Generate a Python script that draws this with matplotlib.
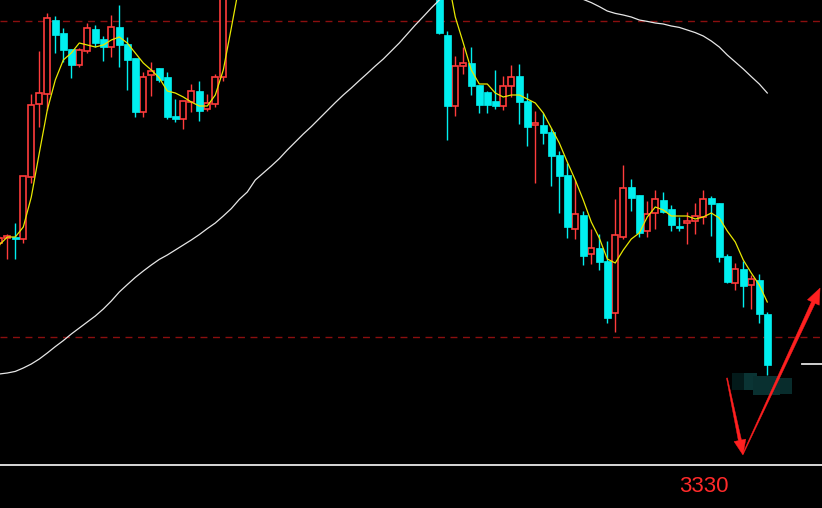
import matplotlib
matplotlib.use("Agg")
import matplotlib.pyplot as plt
from matplotlib.patches import Polygon, Rectangle
from matplotlib.transforms import IdentityTransform
import numpy as np

# ---- data (price units) ----
opens = [3441, 3443.5, 3444.2, 3443, 3474, 3510.5, 3515.5, 3552.5, 3546, 3538,
         3530, 3537, 3548, 3543, 3539, 3549, 3540.5, 3533.5, 3506.5, 3525,
         3528.5, 3524, 3504.5, 3503, 3511.5, 3517, 3508, 3510.5, 3524, 3592,
         3600, 3610, 3605, 3620, 3635, 3628, 3645, 3655, 3645, 3652,
         3665, 3655, 3660, 3655, 3640, 3648, 3635, 3622, 3630, 3618,
         3605, 3612, 3600, 3595, 3598, 3585, 3545, 3509.5, 3529.5, 3531,
         3520, 3516.5, 3512, 3509.5, 3519.5, 3524.5, 3512, 3500, 3500, 3496.5,
         3485, 3475, 3448, 3455, 3435.5, 3438.5, 3432, 3406, 3444, 3469,
         3465, 3447, 3456, 3462.5, 3458, 3449.5, 3451, 3452, 3454, 3463.5,
         3461, 3434.5, 3421, 3428, 3420, 3422.5, 3405.5]
highs = [3444.5, 3445.5, 3451, 3474.5, 3515.5, 3537, 3556, 3554.5, 3548.5, 3538,
         3538.5, 3551, 3550, 3544.5, 3555, 3560, 3544, 3533.5, 3526.5, 3531.5,
         3528.5, 3526.5, 3513, 3512, 3520.5, 3522, 3515.5, 3525.5, 3597.5, 3605,
         3615, 3622, 3625, 3640, 3645, 3650, 3660, 3662, 3658, 3670,
         3675, 3668, 3672, 3660, 3652, 3655, 3642, 3635, 3638, 3625,
         3618, 3620, 3610, 3605, 3602, 3590, 3547, 3534.5, 3539, 3539,
         3520, 3517, 3527.5, 3524.5, 3530, 3530.5, 3516, 3507, 3506, 3498.5,
         3487, 3481, 3472.5, 3457, 3448, 3445.5, 3442, 3463, 3480, 3473,
         3465, 3462, 3467.5, 3466.5, 3460, 3454, 3456.5, 3461, 3467.5, 3464.5,
         3461, 3435.5, 3431, 3432, 3425, 3425.5, 3406.5]
lows = [3439.5, 3433, 3433, 3441, 3471, 3499, 3507.5, 3536, 3531.5, 3523.5,
        3529, 3536, 3539, 3532, 3534, 3529, 3517.5, 3504, 3504, 3514.5,
        3521.5, 3503, 3501.5, 3498, 3506.5, 3502, 3507, 3509, 3522, 3585,
        3595, 3600, 3600, 3615, 3622, 3625, 3638, 3640, 3635, 3648,
        3650, 3645, 3650, 3635, 3630, 3630, 3618, 3615, 3612, 3600,
        3598, 3595, 3590, 3585, 3580, 3545.5, 3492.5, 3504.5, 3525.5, 3515,
        3506, 3506, 3508, 3507.5, 3514, 3500.5, 3489.5, 3471, 3490.5, 3469.5,
        3456, 3443.5, 3443, 3430, 3430.5, 3427.5, 3401, 3396.5, 3443, 3457,
        3444, 3444, 3448, 3456, 3447, 3447, 3440.5, 3445.5, 3450.5, 3444.5,
        3431.5, 3421, 3417.5, 3409, 3408, 3401, 3375]
closes = [3443.5, 3444.5, 3443.2, 3474.5, 3510, 3516, 3553.5, 3545, 3537.5, 3530,
          3537.5, 3548.5, 3541, 3539, 3549, 3540, 3532.5, 3506.5, 3524, 3527,
          3522.5, 3504, 3503, 3512, 3517, 3507, 3511, 3524, 3592.5, 3600,
          3610, 3605, 3620, 3635, 3628, 3645, 3655, 3645, 3652, 3665,
          3655, 3660, 3655, 3640, 3648, 3635, 3622, 3630, 3618, 3605,
          3612, 3600, 3595, 3598, 3585, 3546, 3509.5, 3529.5, 3531, 3519.5,
          3510, 3510, 3509.5, 3519.5, 3524, 3511.5, 3499, 3501, 3496, 3484.5,
          3474.5, 3449, 3455.5, 3434.5, 3438.5, 3431.5, 3403.5, 3445, 3468.5, 3463.5,
          3446, 3455.5, 3463, 3456.5, 3450, 3448.5, 3452, 3454.5, 3463, 3460.5,
          3434, 3421.5, 3428, 3419.5, 3423, 3405.5, 3380]

ma_short = [3440, 3444, 3444, 3449, 3464, 3486, 3507.5, 3522.5, 3532.5, 3536,
            3541, 3540, 3539, 3540, 3542.5, 3544, 3541, 3536, 3531, 3527.5,
            3523.5, 3517, 3516, 3514, 3511.5, 3509.5, 3509.5, 3515, 3527.5, 3548.5,
            3570, 3588, 3602, 3614, 3624, 3633, 3641, 3647, 3651, 3655,
            3658, 3660, 3660, 3658, 3655, 3650, 3645, 3640, 3635, 3629,
            3624, 3618, 3611, 3605, 3598, 3590, 3575, 3554, 3541, 3527.5,
            3520.5, 3520.5, 3516, 3514, 3515, 3515, 3513, 3511, 3506, 3498.5,
            3491, 3481.5, 3472.5, 3462.5, 3451.5, 3443.5, 3433, 3431, 3437.5, 3443,
            3446, 3454, 3459, 3457.5, 3454.5, 3454.5, 3454.5, 3453, 3454, 3456,
            3453.5, 3447, 3441.5, 3432.5, 3426, 3420, 3411.5]

ma_long = [3375.5, 3376, 3376.8, 3378.5, 3380.5, 3383, 3386, 3389.2, 3392.2, 3395.5,
           3398.5, 3401.5, 3404.5, 3408, 3412, 3416.5, 3420.2, 3423.8, 3427, 3430,
           3432.8, 3435, 3437.5, 3440, 3442.5, 3445.2, 3448.2, 3451, 3454.5, 3458.2,
           3462.8, 3466.5, 3472.5, 3476, 3479.5, 3483.2, 3487.5, 3491.5, 3495.5, 3499.2,
           3503.2, 3507.2, 3511.2, 3515, 3518.5, 3522.2, 3525.8, 3529.5, 3533, 3537,
           3541, 3545.5, 3550, 3554.2, 3558.5, 3562.5, 3566, 3569, 3571.5, 3573.5,
           3575, 3576, 3576.5, 3576.5, 3576, 3575, 3573.5, 3572, 3570, 3568.5,
           3566.5, 3565, 3563.8, 3562.8, 3561.2, 3559.2, 3557, 3555.8, 3555, 3554,
           3552.5, 3551.8, 3551, 3550.5, 3549.5, 3548.8, 3547.5, 3546.2, 3544.5, 3542,
           3539, 3535, 3531.5, 3528, 3524.2, 3520.5, 3516]

dash_levels = [3552, 3394]
support_level = 3330
support_label = "3330"
right_marker_level = 3380.5

RED = "#ff3c3c"
CYAN = "#00efef"

fig = plt.figure(figsize=(8.22, 5.08), dpi=100)
fig.patch.set_facecolor("black")
ax = fig.add_axes([0, 0, 1, 1])
ax.set_facecolor("black")
ax.set_axis_off()
ax.set_xlim(0.0875, 102.84)
ax.set_ylim(3308.5, 3562.5)

x = np.arange(len(opens))
o = np.array(opens); c = np.array(closes); h = np.array(highs); l = np.array(lows)
up = c >= o
colors = np.where(up, RED, CYAN)

# wicks
ax.vlines(x, l, h, colors=colors, linewidth=1.0, zorder=2)
# bodies
bottoms = np.minimum(o, c)
heights = np.maximum(np.abs(c - o), 0.6)
ax.bar(x[up], heights[up], bottom=bottoms[up], width=0.78, facecolor="black",
       edgecolor=RED, linewidth=1.2, zorder=3)
ax.bar(x[~up], heights[~up], bottom=bottoms[~up], width=0.82, facecolor=CYAN,
       edgecolor=CYAN, linewidth=0.5, zorder=3)

# moving averages
ax.plot(x, ma_short, color="#e8e800", linewidth=0.9, zorder=4)
ax.plot(x, ma_long, color="#e6e6e6", linewidth=0.9, zorder=4)

# reference lines
for lv in dash_levels:
    ax.axhline(lv, color="#8a0f0f", linewidth=1.0, dashes=(5, 4), zorder=1)
ax.axhline(support_level, color="#d8d8d8", linewidth=1.4, zorder=1)
ax.plot([100.3, 103], [right_marker_level, right_marker_level], color="#e0e0e0",
        linewidth=1.3, zorder=1)

# teal blob
blob = [(91.6, 3367.5, 1.5, 8.5, "#031a1a"),
        (93.1, 3367.5, 1.6, 8.5, "#0a3434"),
        (94.2, 3365.0, 3.4, 9.5, "#093030"),
        (97.6, 3365.5, 1.5, 8.0, "#082c2c")]
for bx, by, bw, bh, bc in blob:
    ax.add_patch(Rectangle((bx, by), bw, bh, facecolor=bc, edgecolor="none", zorder=5))

ax.text(84.96, 3319.0, support_label, color="#ff2a2a", fontsize=16,
        ha="left", va="center", family=["Liberation Sans", "DejaVu Sans"], zorder=6)

fig.canvas.draw()


def tapered_arrow(p0, p1, w0, w1, head_len, head_w, color):
    t = ax.transData
    a = t.transform(p0)
    b = t.transform(p1)
    d = b - a
    L = np.hypot(*d)
    u = d / L
    n = np.array([-u[1], u[0]])
    base = b - u * head_len
    pts = [a + n * w0 / 2, base + n * w1 / 2, base + n * head_w / 2, b,
           base - n * head_w / 2, base - n * w1 / 2, a - n * w0 / 2]
    ax.add_patch(Polygon(pts, closed=True, facecolor=color, edgecolor=color,
                         linewidth=0.3, transform=IdentityTransform(), zorder=7,
                         clip_on=True))


tapered_arrow((90.96, 3373.5), (92.96, 3335.0), 1.0, 3.2, 15, 12, "#ff2020")
tapered_arrow((92.96, 3335.5), (102.6, 3418.5), 0.8, 4.0, 16, 13, "#ff2020")

fig.savefig("out.png", dpi=100, facecolor="black")
